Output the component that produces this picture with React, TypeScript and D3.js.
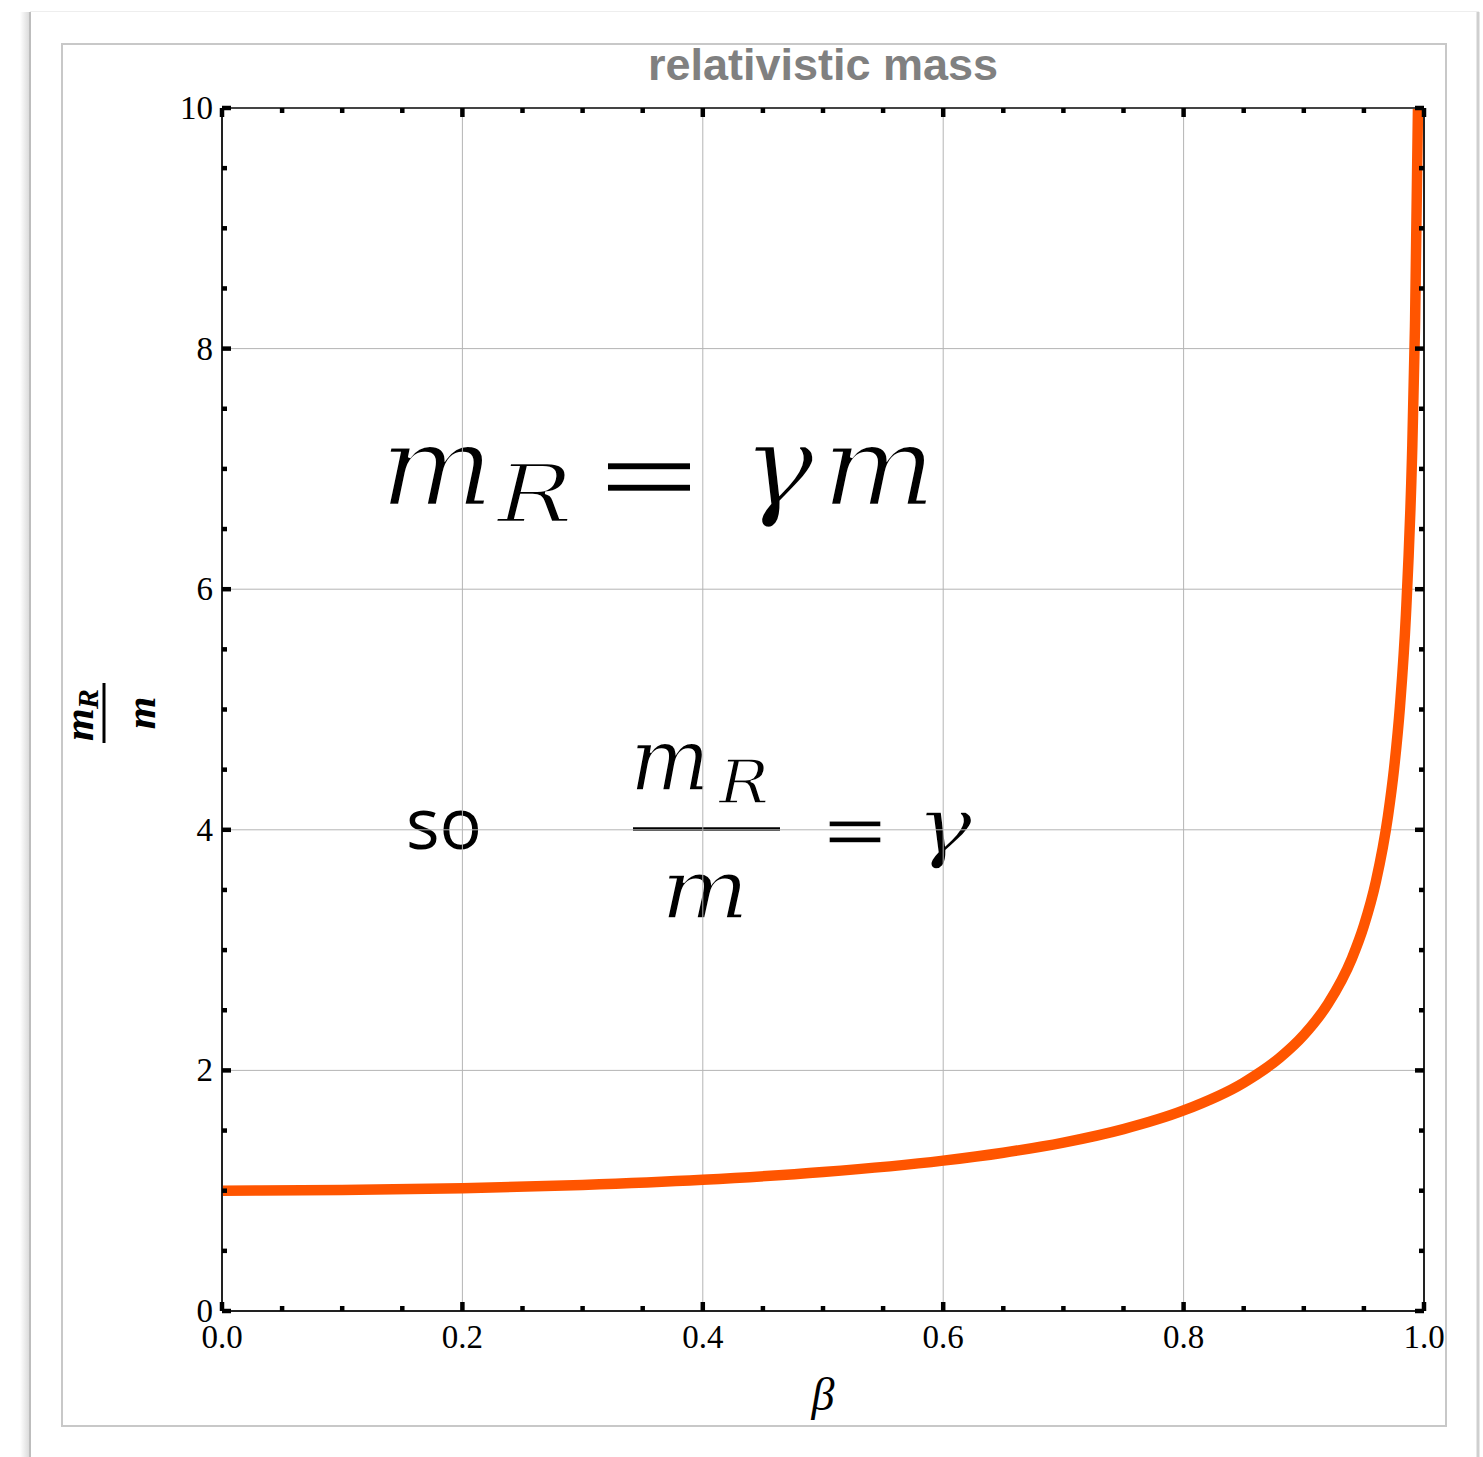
import React from "react";
import * as d3 from "d3";

// Lorentz factor sampled along the speed ratio β = v/c
const betaValues = [
  0, 0.1, 0.2, 0.3, 0.4, 0.5, 0.6, 0.65, 0.7, 0.75, 0.8, 0.85, 0.88, 0.9, 0.92,
  0.94, 0.95, 0.96, 0.97, 0.975, 0.98, 0.985, 0.99, 0.9925, 0.995, 0.996,
];
const massRatio = [
  1, 1.005, 1.021, 1.048, 1.091, 1.155, 1.25, 1.316, 1.4, 1.512, 1.667, 1.898,
  2.105, 2.294, 2.552, 2.931, 3.203, 3.571, 4.113, 4.5, 5.025, 5.793, 7.089,
  8.18, 10.013, 11.19,
];

const xDomain = [0, 1];
const yDomain = [0, 10];
const chartTitle = "relativistic mass";

const W = 1483;
const H = 1457;
const plot = { left: 222, right: 1424, top: 108, bottom: 1311 };

export default function App() {
  const x = d3.scaleLinear().domain(xDomain).range([plot.left, plot.right]);
  const y = d3.scaleLinear().domain(yDomain).range([plot.bottom, plot.top]);

  const xMajor = x.ticks(5);
  const xMinor = x.ticks(20).filter((t) => !xMajor.some((m) => Math.abs(m - t) < 1e-9));
  const yMajor = y.ticks(5);
  const yMinor = y.ticks(20).filter((t) => !yMajor.some((m) => Math.abs(m - t) < 1e-9));

  const points = betaValues.map((b, i) => [b, massRatio[i]] as [number, number]);
  const line = d3
    .line<[number, number]>()
    .x((d) => x(d[0]))
    .y((d) => y(d[1]))
    .curve(d3.curveMonotoneX);

  const serif = "'Liberation Serif', 'Times New Roman', serif";
  const mathFont = "'DejaVu Serif', serif";
  const fmtX = d3.format(".1f");

  const majorLen = 9;
  const minorLen = 5;

  // thin white outline trims the italic strokes to a lighter weight
  const thinBig = { stroke: "#fff", strokeWidth: 2.5 };
  const thinSmall = { stroke: "#fff", strokeWidth: 1.5 };

  return (
    <svg
      width={W}
      height={H}
      style={{ position: "absolute", left: 0, top: 0, background: "#fff" }}
    >
      <defs>
        <linearGradient id="winShadow" x1="0" x2="1" y1="0" y2="0">
          <stop offset="0" stopColor="#ffffff" />
          <stop offset="1" stopColor="#d8d8d8" />
        </linearGradient>
        <clipPath id="plotClip">
          <rect
            x={plot.left}
            y={plot.top}
            width={plot.right - plot.left}
            height={plot.bottom - plot.top}
          />
        </clipPath>
      </defs>

      {/* window edges */}
      <rect x={20} y={12} width={10} height={H - 12} fill="url(#winShadow)" />
      <line x1={30} x2={30} y1={12} y2={H} stroke="#bdbdbd" strokeWidth={2} />
      <line x1={30} x2={1479} y1={11.5} y2={11.5} stroke="#eeeeee" strokeWidth={1} />
      <line x1={1478} x2={1478} y1={12} y2={H} stroke="#cfcfcf" strokeWidth={3} />

      {/* chart panel */}
      <rect x={62} y={44} width={1384} height={1382} fill="#fff" stroke="#c8c8c8" strokeWidth={2} />

      {/* title */}
      <text
        x={(plot.left + plot.right) / 2}
        y={80}
        textAnchor="middle"
        fontFamily="'Liberation Sans', Arial, sans-serif"
        fontWeight="bold"
        fontSize={45}
        fill="#808080"
      >
        {chartTitle}
      </text>

      {/* formulas (under the grid) */}
      <g fontFamily={mathFont} fontStyle="italic" fill="#000">
        <text x={380} y={505} fontSize={110} textLength={114} lengthAdjust="spacingAndGlyphs" {...thinBig}>m</text>
        <text x={497} y={522} fontSize={81} textLength={76} lengthAdjust="spacingAndGlyphs" {...thinBig}>R</text>
        <text x={742} y={505} fontSize={112} textLength={72} lengthAdjust="spacingAndGlyphs" {...thinBig}>γ</text>
        <text x={822} y={505} fontSize={110} textLength={114} lengthAdjust="spacingAndGlyphs" {...thinBig}>m</text>

        <text x={630} y={790} fontSize={87} textLength={80} lengthAdjust="spacingAndGlyphs" {...thinSmall}>m</text>
        <text x={719} y={803} fontSize={59} textLength={50} lengthAdjust="spacingAndGlyphs" {...thinSmall}>R</text>
        <text x={661} y={918} fontSize={83} textLength={88} lengthAdjust="spacingAndGlyphs" {...thinSmall}>m</text>
        <text x={916} y={853} fontSize={79} textLength={56} lengthAdjust="spacingAndGlyphs" {...thinSmall}>γ</text>
      </g>
      <g fontFamily={mathFont} fill="#000">
        <text x={592} y={511} fontSize={108} textLength={114} lengthAdjust="spacingAndGlyphs" {...thinBig}>=</text>
        <text x={820} y={857} fontSize={80} textLength={70} lengthAdjust="spacingAndGlyphs" {...thinSmall}>=</text>
      </g>
      <line x1={633} x2={780} y1={829} y2={829} stroke="#000" strokeWidth={3.5} />
      <text
        x={406}
        y={849}
        fontFamily="'Open Sans', 'Noto Sans', sans-serif"
        fontSize={72}
        fontWeight={500}
        fill="#000"
        textLength={76}
        lengthAdjust="spacingAndGlyphs"
      >
        so
      </text>

      {/* grid */}
      {xMajor.map((t) => (
        <line key={"gx" + t} x1={x(t)} x2={x(t)} y1={plot.top} y2={plot.bottom} stroke="#b4b4b4" strokeWidth={1} />
      ))}
      {yMajor.map((t) => (
        <line key={"gy" + t} x1={plot.left} x2={plot.right} y1={y(t)} y2={y(t)} stroke="#b4b4b4" strokeWidth={1} />
      ))}

      {/* curve */}
      <path
        d={line(points) || ""}
        fill="none"
        stroke="#ff5500"
        strokeWidth={10.5}
        clipPath="url(#plotClip)"
      />

      {/* frame */}
      <line x1={plot.left} x2={plot.right} y1={plot.top} y2={plot.top} stroke="#444" strokeWidth={2} />
      <line x1={plot.right} x2={plot.right} y1={plot.top} y2={plot.bottom} stroke="#222" strokeWidth={2} />
      <line x1={plot.left} x2={plot.right} y1={plot.bottom} y2={plot.bottom} stroke="#222" strokeWidth={2} />
      <line x1={plot.left} x2={plot.left} y1={plot.top} y2={plot.bottom} stroke="#222" strokeWidth={2} />

      {/* ticks */}
      <g stroke="#000" strokeWidth={4.5}>
        {xMajor.map((t) => (
          <g key={"xt" + t}>
            <line x1={x(t)} x2={x(t)} y1={plot.bottom} y2={plot.bottom - majorLen} />
            <line x1={x(t)} x2={x(t)} y1={plot.top} y2={plot.top + majorLen} />
          </g>
        ))}
        {xMinor.map((t) => (
          <g key={"xm" + t}>
            <line x1={x(t)} x2={x(t)} y1={plot.bottom} y2={plot.bottom - minorLen} />
            <line x1={x(t)} x2={x(t)} y1={plot.top} y2={plot.top + minorLen} />
          </g>
        ))}
        {yMajor.map((t) => (
          <g key={"yt" + t}>
            <line x1={plot.left} x2={plot.left + majorLen} y1={y(t)} y2={y(t)} />
            <line x1={plot.right} x2={plot.right - majorLen} y1={y(t)} y2={y(t)} />
          </g>
        ))}
        {yMinor.map((t) => (
          <g key={"ym" + t}>
            <line x1={plot.left} x2={plot.left + minorLen} y1={y(t)} y2={y(t)} />
            <line x1={plot.right} x2={plot.right - minorLen} y1={y(t)} y2={y(t)} />
          </g>
        ))}
      </g>

      {/* tick labels */}
      <g fontFamily={serif} fontSize={33} fill="#000">
        {xMajor.map((t) => (
          <text key={"xl" + t} x={x(t)} y={plot.bottom + 37} textAnchor="middle">
            {fmtX(t)}
          </text>
        ))}
        {yMajor.map((t) => (
          <text key={"yl" + t} x={plot.left - 9} y={y(t) + 11} textAnchor="end">
            {String(t)}
          </text>
        ))}
      </g>

      {/* axis labels */}
      <text
        x={(plot.left + plot.right) / 2}
        y={1410}
        textAnchor="middle"
        fontFamily={serif}
        fontStyle="italic"
        fontSize={46}
        fill="#000"
      >
        β
      </text>
      <g transform="translate(0,713) rotate(-90)" fontFamily={serif} fontStyle="italic" fontWeight="bold" fill="#000">
        <text x={-28} y={93} fontSize={42}>m</text>
        <text x={4} y={98} fontSize={30}>R</text>
        <line x1={-30} x2={30} y1={104} y2={104} stroke="#000" strokeWidth={3} />
        <text x={0} y={155} fontSize={42} textAnchor="middle">m</text>
      </g>
    </svg>
  );
}
